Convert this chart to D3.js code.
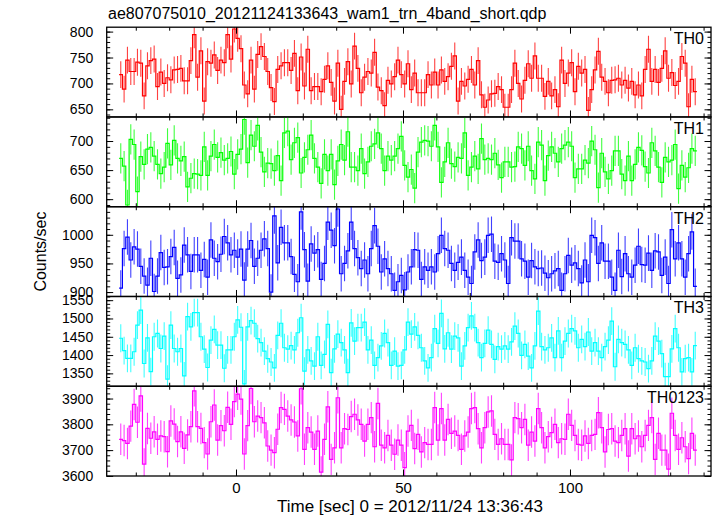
<!DOCTYPE html>
<html><head><meta charset="utf-8">
<script src="https://cdn.jsdelivr.net/npm/d3@7"></script>
<style>
body{margin:0;background:#fff}
text{font-family:"Liberation Sans",Arial,Helvetica,sans-serif;fill:#000}
</style>
</head><body>
<svg id="c" width="717" height="516"></svg>
<script>
const title = "ae807075010_20121124133643_wam1_trn_4band_short.qdp";
const xLabel = "Time [sec] 0 = 2012/11/24 13:36:43";
const yLabel = "Counts/sec";
const seriesNames = ["TH0", "TH1", "TH2", "TH3", "TH0123"];
const seriesColors = ["#ff0000", "#00ff00", "#0000ff", "#00ffff", "#ff00ff"];
const binStart = -35, binWidth = 1;

const th0 = [717,689,745,723,723,741,739,676,734,744,
747,694,722,700,711,707,726,727,729,705,
705,744,794,712,763,666,742,739,755,725,
745,740,794,747,805,787,767,697,680,745,
689,756,771,752,723,692,665,727,734,740,
740,725,758,686,751,695,766,686,694,694,
684,708,734,702,666,739,650,704,742,699,
772,729,682,712,723,720,760,693,686,657,
706,699,713,745,717,699,738,688,720,682,
682,682,717,697,722,697,726,704,713,733,
753,666,704,695,708,727,697,744,678,654,
668,680,681,694,688,654,654,688,739,700,
670,706,738,710,753,710,710,675,704,676,
688,655,745,700,720,740,684,733,720,727,
648,688,726,762,712,704,682,706,707,710,
697,706,691,704,678,697,676,727,766,704,
727,702,729,763,710,721,696,704,752,739,
655,708,684];

const th1 = [670,657,590,703,694,613,673,660,686,689,
674,660,644,655,696,659,701,670,666,673,
621,636,644,643,641,690,641,674,694,672,
680,667,670,682,643,677,686,737,663,710,
691,727,
681,647,662,661,649,675,632,714,717,668,
697,706,645,672,685,710,670,655,627,677,
649,677,625,666,694,667,716,655,655,649,
687,644,664,691,695,714,687,649,674,667,
674,687,708,658,638,651,619,681,698,701,
700,691,727,690,629,664,697,661,656,672,
670,714,641,655,674,652,704,668,670,
668,679,659,637,664,664,655,656,690,687,
658,691,649,635,698,693,632,675,690,679,
664,687,693,698,691,637,652,652,667,662,
700,685,620,679,647,635,649,683,683,643,
632,674,632,660,689,684,656,645,697,683,
655,629,672,664,667,694,618,658,638,654,
687,683];

const th2 = [907,976,996,956,979,975,945,928,912,959,
901,928,969,943,944,962,978,924,930,982,
965,936,965,965,938,957,926,991,959,953,
966,997,986,965,973,961,975,921,975,990,
945,959,
973,993,976,900,1033,951,1013,986,986,962,
931,918,1040,974,919,984,968,974,922,950,
1022,1008,981,1045,932,950,972,1022,976,960,
941,956,932,976,1016,980,935,958,941,932,
903,918,929,904,935,944,974,973,922,944,
938,944,935,967,999,976,973,950,938,952,
961,938,926,915,970,991,955,961,999,
1001,954,952,967,956,915,995,989,989,958,
954,926,955,944,941,942,933,925,932,937,
941,903,932,964,947,951,941,916,956,918,
999,995,950,986,954,954,926,903,973,927,
967,932,926,947,980,948,947,968,938,972,
970,929,961,915,1009,958,986,958,926,967,
1005,910];

const th3 = [1446,1412,1391,1391,1409,1482,1523,1377,1447,1355,
1450,1459,1418,1452,1334,1482,1418,1409,1418,1343,
1505,1477,1516,1516,1450,1416,1366,1441,1470,1427,
1427,1364,1414,1414,1450,1496,1476,1321,1477,1494,
1487,1445,
1434,1411,1390,1381,1365,1454,1487,1420,1416,1426,
1414,1461,1502,1356,1414,1384,1370,1450,1372,1402,
1484,1352,1417,1457,1434,1414,1352,1488,1438,1475,
1475,1490,1414,1441,1372,1393,1425,1459,1434,1372,
1411,1370,1372,1414,1490,1457,1477,1454,1420,1384,
1365,1393,1472,1432,1514,1417,1461,1416,1452,1447,
1370,1425,1475,1507,1475,1434,1393,1432,1468,
1429,1388,1423,1416,1425,1416,1436,1479,1459,1399,
1429,1397,1365,1425,1520,1423,1414,1420,1447,1393,
1466,1393,1438,1459,1472,1466,1420,1443,1423,1463,
1411,1434,1411,1393,1423,1441,1493,1368,1443,1434,
1429,1414,1372,1420,1390,1384,1381,1363,1384,1452,
1438,1404,1341,1341,1417,1472,1420,1354,1390,1393,
1354,1426];

const th0123 = [3742,3737,3726,3793,3877,3808,3910,3646,3784,3746,
3771,3742,3755,3752,3694,3813,3801,3733,3771,3707,
3759,3791,3930,3791,3784,3729,3685,3810,3875,3739,
3795,3775,3866,3800,3888,3917,3898,3685,3795,3939,
3810,3832,
3826,3806,3716,3700,3690,3781,3865,3858,3832,3817,
3809,3755,3938,3703,3787,3770,3703,3774,3615,3742,
3868,3664,3709,3903,3709,3783,3780,3830,3839,3817,
3800,3735,3800,3826,3713,3881,3719,3709,3757,3719,
3684,3739,3719,3632,3774,3796,3706,3761,3693,3729,
3722,3722,3865,3739,3861,3739,3819,3765,3774,3757,
3703,3755,3770,3861,3865,3783,3709,3787,3848,
3852,3761,3722,3744,3722,3722,3662,3826,3822,3787,
3819,3719,3770,3735,3861,3787,3709,3752,3768,3800,
3729,3744,3742,3839,3796,3757,3722,3719,3755,3726,
3757,3761,3845,3787,3693,3780,3783,3735,3729,3757,
3783,3677,3783,3744,3755,3713,3757,3796,3826,3664,
3765,3700,3700,3626,3843,3757,3703,3748,3713,3667,
3765,3700];

const seriesValues = [th0, th1, th2, th3, th0123];
const seriesErrors = [26, 26, 31, 38, 61];
const yDomains = [[635.3, 808.5], [587, 741.4], [892.3, 1049], [1314.8, 1560.1], [3599.6, 3947.7]];
const yMajorTicks = [[650, 700, 750, 800], [600, 650, 700], [900, 950, 1000], [1350, 1400, 1450, 1500, 1550], [3600, 3700, 3800, 3900]];
const yMinorSteps = [10, 10, 10, 10, 20];
const xDomain = [-38.71, 142.22];
const xMajorTicks = [0, 50, 100];
const xMinorStep = 10;

// ---- layout ----
const W = 717, H = 516;
const plotL = 106.7, plotR = 711, plotT = 27.2, plotB = 476;
const nP = seriesValues.length;
const pH = (plotB - plotT) / nP;

const svg = d3.select("#c");
const x = d3.scaleLinear().domain(xDomain).range([plotL, plotR]);

function minorVals(dom, step) {
  const lo = Math.ceil(dom[0] / step) * step;
  return d3.range(lo, dom[1] + 1e-9, step);
}
const xMinor = minorVals(xDomain, xMinorStep);

seriesValues.forEach((vals, p) => {
  const top = plotT + p * pH, bot = top + pH;
  const y = d3.scaleLinear().domain(yDomains[p]).range([bot, top]);
  const col = seriesColors[p];
  const err = seriesErrors[p];
  const g = svg.append("g");

  const cid = "clip" + p;
  svg.append("clipPath").attr("id", cid).append("rect")
    .attr("x", plotL).attr("y", top).attr("width", plotR - plotL).attr("height", pH);

  const data = vals.map((v, i) => ({t0: binStart + i * binWidth, v}));
  const dg = g.append("g").attr("clip-path", `url(#${cid})`);

  // error bars
  dg.selectAll("line.err").data(data).join("line")
    .attr("class", "err")
    .attr("x1", d => x(d.t0 + binWidth / 2)).attr("x2", d => x(d.t0 + binWidth / 2))
    .attr("y1", d => y(d.v - err)).attr("y2", d => y(d.v + err))
    .attr("stroke", col).attr("stroke-width", 1.1).attr("stroke-opacity", 0.75);

  // step histogram
  const pts = data.map(d => [d.t0, d.v]);
  pts.push([data[data.length - 1].t0 + binWidth, data[data.length - 1].v]);
  const line = d3.line().x(d => x(d[0])).y(d => y(d[1])).curve(d3.curveStepAfter);
  dg.append("path").attr("d", line(pts)).attr("fill", "none")
    .attr("stroke", col).attr("stroke-width", 1.2);

  // axes (ticks inward)
  const yMin = minorVals(yDomains[p], yMinorSteps[p]);
  const axes = [
    [d3.axisLeft(y).tickValues(yMajorTicks[p]).tickSize(-6.5).tickPadding(13.5).tickFormat(d3.format("d")), plotL, 0, true],
    [d3.axisLeft(y).tickValues(yMin).tickSize(-3.5).tickFormat(""), plotL, 0],
    [d3.axisRight(y).tickValues(yMajorTicks[p]).tickSize(-6.5).tickFormat(""), plotR, 0],
    [d3.axisRight(y).tickValues(yMin).tickSize(-3.5).tickFormat(""), plotR, 0],
    [d3.axisBottom(x).tickValues(xMajorTicks).tickSize(-6.5).tickPadding(6).tickFormat(p === nP - 1 ? d3.format("d") : ""), 0, bot, p === nP - 1, true],
    [d3.axisBottom(x).tickValues(xMinor).tickSize(-3.5).tickFormat(""), 0, bot],
    [d3.axisTop(x).tickValues(xMajorTicks).tickSize(-6.5).tickFormat(""), 0, top],
    [d3.axisTop(x).tickValues(xMinor).tickSize(-3.5).tickFormat(""), 0, top]
  ];
  axes.forEach(([ax, tx, ty, lab, isX]) => {
    const a = g.append("g").attr("transform", `translate(${tx},${ty})`).call(ax);
    a.select(".domain").remove();
    a.selectAll(".tick line").attr("stroke", "#000").attr("stroke-width", 1);
    a.selectAll("text").attr("font-size", isX ? 15 : 14)
      .attr("font-family", '"Liberation Sans",Arial,sans-serif').attr("fill", "#000");
  });

  // frame
  g.append("rect").attr("x", plotL).attr("y", top).attr("width", plotR - plotL).attr("height", pH)
    .attr("fill", "none").attr("stroke", "#000").attr("stroke-width", 1.3);

  // panel label
  g.append("text").attr("x", 704).attr("y", top + 17).attr("text-anchor", "end")
    .attr("font-size", 16).text(seriesNames[p]);
});

svg.append("text").attr("x", 108).attr("y", 19).attr("font-size", 16).text(title);
svg.append("text").attr("x", 410).attr("y", 512).attr("text-anchor", "middle")
  .attr("font-size", 17).text(xLabel);
svg.append("text").attr("transform", `translate(46,${(plotT + plotB) / 2}) rotate(-90)`)
  .attr("text-anchor", "middle").attr("font-size", 16).text(yLabel);
</script>
</body></html>
